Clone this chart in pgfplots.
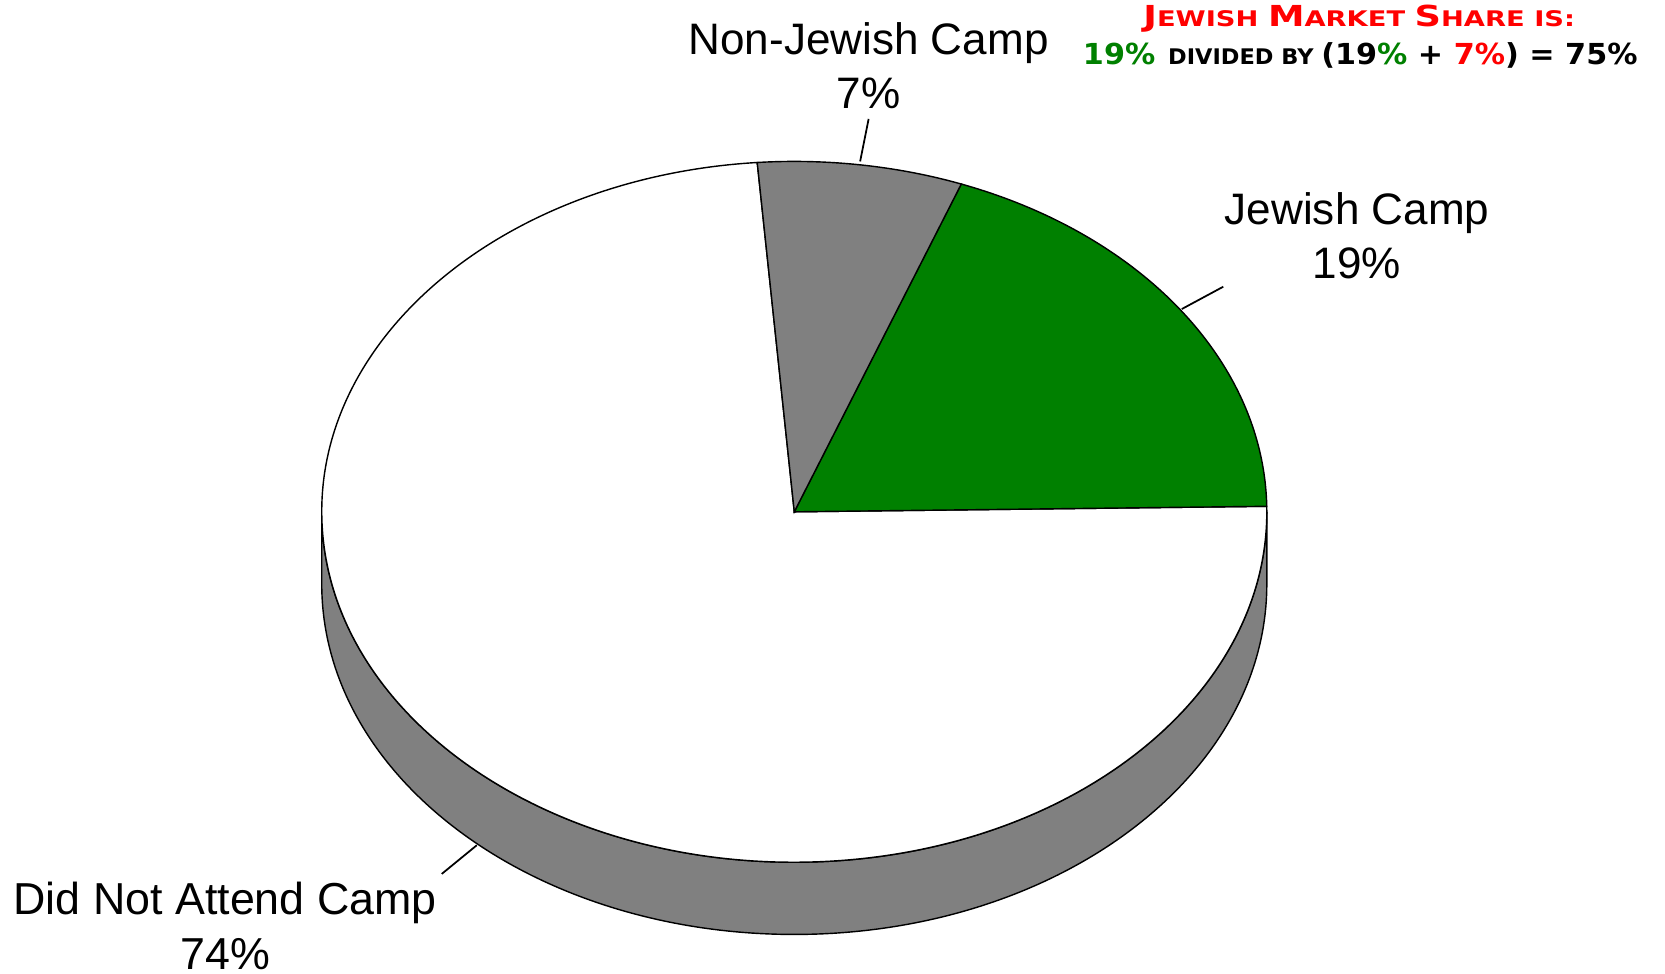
\documentclass[border=0pt]{standalone}
\usepackage{pgfplots}
\pgfplotsset{compat=1.18}
\usepackage{pgfplotstable}
\usepackage{fontspec}
\setmainfont{Liberation Sans}
\newfontfamily\cop{DejaVu Sans}
\definecolor{pgreen}{RGB}{0,128,0}
\definecolor{pgray}{RGB}{128,128,128}
\definecolor{pred}{RGB}{255,0,0}
\newcommand\BG{\fontsize{8.2}{9}\selectfont}
\newcommand\SM{\fontsize{6.1}{9}\selectfont}

\pgfplotstableread{
slice value
Jewish 19
NonJewish 7
NotAttend 74
}\piedata

\begin{document}
\begin{tikzpicture}
\pgfplotstablegetelem{0}{value}\of\piedata \pgfmathsetmacro\vA{\pgfplotsretval}
\pgfplotstablegetelem{1}{value}\of\piedata \pgfmathsetmacro\vB{\pgfplotsretval}
\pgfplotstablegetelem{2}{value}\of\piedata \pgfmathsetmacro\vC{\pgfplotsretval}
\pgfmathsetmacro\aS{0.9}
\pgfmathsetmacro\aA{\aS+3.6*\vA}
\pgfmathsetmacro\aB{\aA+3.6*\vB}
\pgfmathsetmacro\aC{\aB+3.6*\vC}
\def\cx{748}\def\cy{435}\def\rx{445}\def\ry{330}\def\dep{68}
\begin{axis}[hide axis, scale only axis, width=16.6cm, height=9.708cm,
  xmin=0, xmax=1568, ymin=0, ymax=917, clip=false]
\coordinate (BL) at (axis cs:0,0);
\coordinate (TR) at (axis cs:1568,917);
% side of the pie
\filldraw[fill=pgray, draw=black, line width=0.4pt]
  (axis cs:{\cx-\rx},\cy) arc[start angle=180, end angle=360, x radius=\rx, y radius=\ry]
  -- (axis cs:{\cx+\rx},{\cy-\dep}) arc[start angle=360, end angle=180, x radius=\rx, y radius=\ry]
  -- cycle;
% top slices
\filldraw[fill=white, draw=black, line width=0.4pt]
  (axis cs:\cx,\cy) -- (axis cs:{\cx+\rx*cos(\aB)},{\cy+\ry*sin(\aB)})
  arc[start angle=\aB, end angle=\aC, x radius=\rx, y radius=\ry] -- cycle;
\filldraw[fill=pgreen, draw=black, line width=0.4pt]
  (axis cs:\cx,\cy) -- (axis cs:{\cx+\rx*cos(\aS)},{\cy+\ry*sin(\aS)})
  arc[start angle=\aS, end angle=\aA, x radius=\rx, y radius=\ry] -- cycle;
\filldraw[fill=pgray, draw=black, line width=0.4pt]
  (axis cs:\cx,\cy) -- (axis cs:{\cx+\rx*cos(\aA)},{\cy+\ry*sin(\aA)})
  arc[start angle=\aA, end angle=\aB, x radius=\rx, y radius=\ry] -- cycle;
% leader lines
\addplot[black, line width=0.5pt] coordinates {(810,765) (818,805)};
\addplot[black, line width=0.5pt] coordinates {(1113,626) (1152,647)};
\addplot[black, line width=0.5pt] coordinates {(449,121) (416,94)};
% labels
\node[align=center, font=\fontsize{12.5}{15.4}\selectfont] at (axis cs:818,855) {Non-Jewish Camp\\7\%};
\node[align=center, font=\fontsize{12.5}{15.4}\selectfont] at (axis cs:1278,695) {Jewish Camp\\19\%};
\node[align=center, font=\fontsize{12.7}{15.4}\selectfont] at (axis cs:212,45) {Did Not Attend Camp\\74\%};
% annotation
\node[font=\cop\bfseries, inner sep=0pt] at (axis cs:1280,899) {\scalebox{1.27}[1]{\color{pred}\BG J\SM EWISH \BG M\SM ARKET \BG S\SM HARE IS:}};
\node[font=\cop\bfseries, inner sep=0pt] at (axis cs:1281,865) {\scalebox{1.045}[1]{{\color{pgreen}\BG 19\%} \SM DIVIDED BY \BG (19{\color{pgreen}\%} + {\color{pred}7\%}) = 75\%}};
\end{axis}
\pgfresetboundingbox
\path (BL) rectangle (TR);
\end{tikzpicture}
\end{document}
